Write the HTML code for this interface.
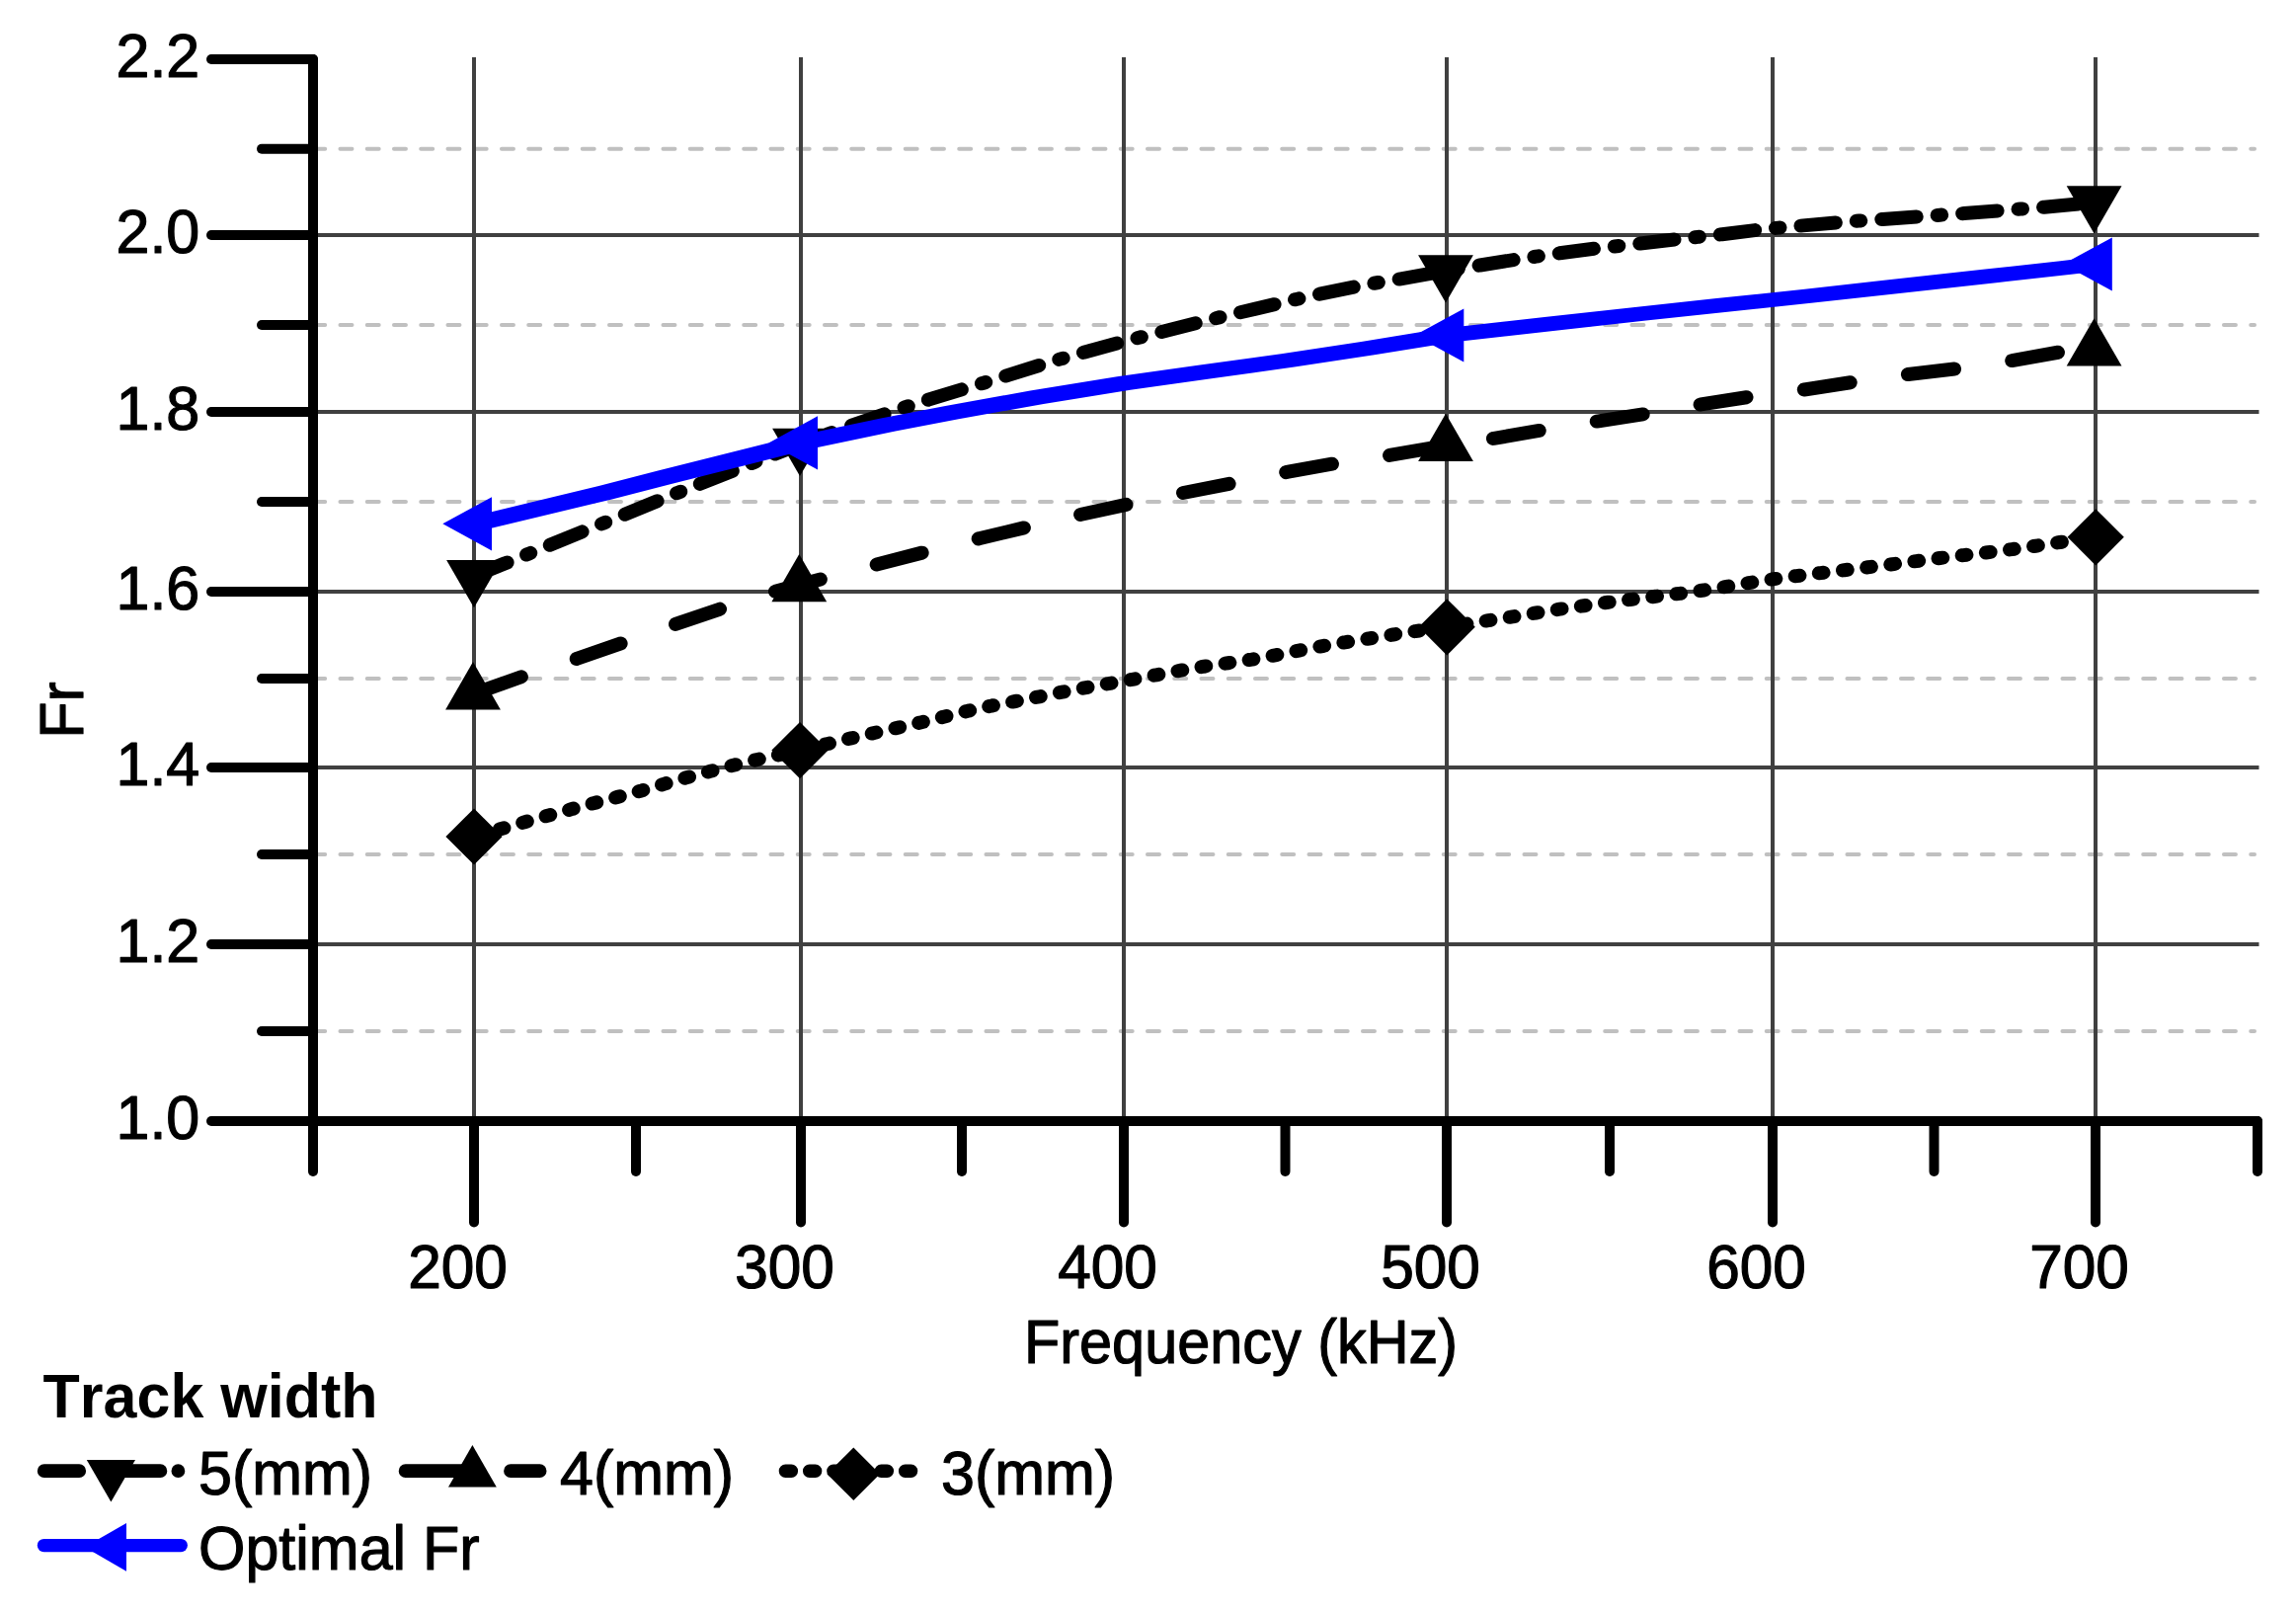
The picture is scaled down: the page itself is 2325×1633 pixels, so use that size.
<!DOCTYPE html>
<html lang="en"><head><meta charset="utf-8"><title>Fr vs Frequency</title>
<style>html,body{margin:0;padding:0;background:#fff}svg{display:block}</style></head>
<body>
<svg width="2325" height="1633" viewBox="0 0 2325 1633" font-family='"Liberation Sans", sans-serif' font-size="61">
<rect width="2325" height="1633" fill="#fff"/>
<g stroke="#c0c0c0" stroke-width="4" stroke-linecap="round" stroke-dasharray="12 15.25" fill="none">
<path d="M317.2 150.7H2283"/>
<path d="M317.2 329H2283"/>
<path d="M317.2 508H2283"/>
<path d="M317.2 687H2283"/>
<path d="M317.2 865H2283"/>
<path d="M317.2 1044H2283"/>
</g>
<g stroke="#404040" stroke-width="4" fill="none">
<path d="M317 238H2287.5"/>
<path d="M317 417H2287.5"/>
<path d="M317 599H2287.5"/>
<path d="M317 777H2287.5"/>
<path d="M317 956H2287.5"/>
<path d="M480 58V1135"/>
<path d="M811 58V1135"/>
<path d="M1138 58V1135"/>
<path d="M1465 58V1135"/>
<path d="M1795 58V1135"/>
<path d="M2122 58V1135"/>
</g>
<g fill="none" stroke="#000" stroke-linecap="round" stroke-linejoin="round" stroke-width="14">
<path stroke-dasharray="35.5 21 4.5 21.1" stroke-dashoffset="-0.75" d="M480.0 583.0L535.2 560.7L610.2 529.9L686.1 498.9L763.8 468.0L810.0 449.8L865.0 429.8L900.0 417.8L916.0 412.5L940.0 404.7L978.0 393.1L996.0 387.7L1018.0 380.7L1054.0 369.4L1074.0 363.4L1097.5 356.7L1136.0 346.3L1152.5 342.0L1176.0 336.1L1214.5 326.3L1234.5 321.4L1255.4 316.4L1293.8 307.4L1313.8 302.7L1336.4 297.7L1374.8 289.7L1395.7 286.0L1418.3 282.3L1464.0 274.3L1498.8 268.5L1534.7 262.8L1555.4 259.7L1579.4 256.3L1616.4 251.5L1637.1 249.2L1661.0 246.5L1698.1 242.2L1719.4 239.9L1743.8 237.2L1779.5 232.8L1801.0 230.6L1825.8 228.4L1861.7 225.2L1882.4 223.6L1906.3 222.0L1943.7 219.2L1964.4 217.7L1988.8 216.1L2025.4 213.2L2046.1 211.6L2070.0 209.7L2121.0 205.0"/>
<path stroke-dasharray="47.5 58.75" stroke-dashoffset="-3.35" d="M480.0 702.3L528.0 685.2L584.0 666.9L628.0 651.7L683.5 632.1L728.5 616.8L786.0 598.5L810.0 592.0L832.0 586.2L886.5 571.8L935.0 559.3L992.3 545.0L1037.8 534.2L1095.0 520.8L1144.0 510.1L1198.0 499.0L1247.0 489.3L1304.5 477.7L1353.0 469.0L1406.8 461.0L1465.0 451.0L1512.7 443.8L1562.1 435.4L1618.7 426.3L1668.2 418.7L1722.5 409.4L1770.6 401.9L1828.7 394.2L1876.8 386.8L1934.3 378.7L1982.9 373.1L2037.3 365.1L2085.9 356.4L2121.0 351.0"/>
<path stroke-dasharray="4.8 19.53" stroke-dashoffset="-2.54" d="M480.0 847.0L531.5 832.2L556.6 825.2L579.0 819.1L601.0 813.2L625.4 806.9L649.8 800.4L672.9 793.6L694.9 787.3L719.3 780.8L743.7 774.5L768.0 768.7L810.0 759.6L838.3 753.0L861.8 747.4L886.2 741.8L910.6 736.4L933.3 731.2L955.6 725.7L980.3 719.7L1004.4 714.5L1028.2 710.0L1052.6 705.3L1077.0 700.4L1101.4 695.8L1122.3 692.1L1146.7 687.8L1171.0 683.3L1195.7 678.7L1219.3 674.7L1243.6 671.2L1267.6 667.6L1292.6 663.1L1316.6 658.3L1340.5 653.8L1361.7 650.3L1386.3 646.5L1410.7 642.5L1433.1 639.1L1465.1 634.8L1507.1 628.2L1531.5 624.4L1555.5 620.5L1579.4 616.7L1604.0 613.2L1628.4 609.8L1650.5 607.0L1676.4 603.8L1701.0 600.9L1725.4 597.5L1749.5 593.7L1770.7 590.1L1794.6 586.4L1819.2 583.1L1843.6 580.1L1867.6 577.2L1891.5 574.3L1916.1 571.2L1940.5 568.1L1964.5 565.0L1988.4 562.1L2012.8 559.3L2037.4 556.1L2061.4 552.7L2085.8 549.0L2122.0 543.8"/>
</g>
<g fill="#000">
<path d="M452.1 566.9H507.9L480.0 615.2Z"/>
<path d="M782.1 433.7H837.9L810.0 482.0Z"/>
<path d="M1436.1 258.2H1491.9L1464.0 306.5Z"/>
<path d="M2092.7 188.3H2148.5L2120.6 236.6Z"/>
<path d="M451.1 718.4H506.9L479.0 670.1Z"/>
<path d="M781.4 609.3H837.2L809.3 561.0Z"/>
<path d="M1436.1 467.1H1491.9L1464.0 418.8Z"/>
<path d="M2092.7 370.5H2148.5L2120.6 322.2Z"/>
<path d="M451.4 847.0L480.0 818.4L508.6 847.0L480.0 875.6Z"/>
<path d="M781.4 759.6L810.0 731.0L838.6 759.6L810.0 788.2Z"/>
<path d="M1436.6 634.8L1465.2 606.2L1493.8 634.8L1465.2 663.4Z"/>
<path d="M2093.6 543.8L2122.2 515.2L2150.8 543.8L2122.2 572.4Z"/>
</g>
<g fill="#0000ff">
<path d="M474.8 523.7L606.3 492.0L666.3 476.6L804.8 441.7L893.3 423.2L957.3 410.9L1043.3 395.5L1131.3 381.3L1213.3 369.8L1297.3 358.2L1378.3 345.9L1459.1 332.8L1564.0 321.1L1651.1 311.4L1738.3 302.1L1825.3 292.9L1912.3 283.3L2010.3 272.5L2086.3 264.2L2115.6 260.7L2129.0 260.7L2129.0 274.1L2099.7 277.6L2023.7 285.9L1925.7 296.7L1838.7 306.2L1751.7 315.5L1664.5 324.8L1577.4 334.5L1472.5 346.2L1391.7 359.3L1310.7 371.6L1226.7 383.2L1144.7 394.7L1056.7 408.9L970.7 424.3L906.7 436.6L818.2 455.1L679.7 490.0L619.7 505.4L488.2 537.1L474.8 537.1Z"/>
<path d="M498.0 503.2V557.4L448.3 530.3Z"/>
<path d="M828.0 421.3V475.5L778.3 448.4Z"/>
<path d="M1482.3 312.4V366.6L1432.6 339.5Z"/>
<path d="M2138.8 240.4V294.6L2089.1 267.5Z"/>
</g>
<g stroke="#000" stroke-width="10" stroke-linecap="round" fill="none">
<path d="M317 60V1186"/>
<path d="M214 1135H2286"/>
<path d="M214 60H317"/>
<path d="M214 238H317"/>
<path d="M214 417H317"/>
<path d="M214 599H317"/>
<path d="M214 777H317"/>
<path d="M214 956H317"/>
<path d="M265 150.7H317"/>
<path d="M265 329H317"/>
<path d="M265 508H317"/>
<path d="M265 687H317"/>
<path d="M265 865H317"/>
<path d="M265 1044H317"/>
<path d="M480 1135V1237.5"/>
<path d="M811 1135V1237.5"/>
<path d="M1138 1135V1237.5"/>
<path d="M1465 1135V1237.5"/>
<path d="M1795 1135V1237.5"/>
<path d="M2122 1135V1237.5"/>
<path d="M644 1135V1186"/>
<path d="M974 1135V1186"/>
<path d="M1301.5 1135V1186"/>
<path d="M1630 1135V1186"/>
<path d="M1958.5 1135V1186"/>
<path d="M2286 1135V1186"/>
</g>
<g fill="#000" stroke="#000" stroke-width="1.2" stroke-linejoin="round" font-size="63.5" style="font-kerning:none">
<text transform="translate(202.3 78) scale(0.9606 1)" text-anchor="end">2.2</text>
<text transform="translate(202.3 256) scale(0.9606 1)" text-anchor="end">2.0</text>
<text transform="translate(202.3 435) scale(0.9606 1)" text-anchor="end">1.8</text>
<text transform="translate(202.3 617) scale(0.9606 1)" text-anchor="end">1.6</text>
<text transform="translate(202.3 795) scale(0.9606 1)" text-anchor="end">1.4</text>
<text transform="translate(202.3 974) scale(0.9606 1)" text-anchor="end">1.2</text>
<text transform="translate(202.3 1153) scale(0.9606 1)" text-anchor="end">1.0</text>
<text transform="translate(463.5 1304) scale(0.9510 1)" text-anchor="middle">200</text>
<text transform="translate(794.5 1304) scale(0.9510 1)" text-anchor="middle">300</text>
<text transform="translate(1121.5 1304) scale(0.9510 1)" text-anchor="middle">400</text>
<text transform="translate(1448.5 1304) scale(0.9510 1)" text-anchor="middle">500</text>
<text transform="translate(1778.5 1304) scale(0.9510 1)" text-anchor="middle">600</text>
<text transform="translate(2105.5 1304) scale(0.9510 1)" text-anchor="middle">700</text>
<text transform="translate(1037 1379.7) scale(0.9357 1)">Frequency (kHz)</text>
<text transform="translate(84 747.7) rotate(-90) scale(0.9606 1)">Fr</text>
<text transform="translate(43.6 1435) scale(0.9606 1)" font-weight="bold" stroke="none">Track width</text>
<text transform="translate(201 1513.3) scale(0.9606 1)">5(mm)</text>
<text transform="translate(567 1513.3) scale(0.9606 1)">4(mm)</text>
<text transform="translate(953 1513.3) scale(0.9606 1)">3(mm)</text>
<text transform="translate(201 1589) scale(0.9606 1)">Optimal Fr</text>
</g>
<g fill="none" stroke-linecap="round" stroke-width="13.8" stroke="#000">
<path d="M44.7 1489.2H80.2M116 1489.2H162.4M180.4 1489.2h0.01"/>
<path d="M410.6 1489.2H470M517 1489.2H546.6"/>
<path stroke-width="13.4" stroke-dasharray="6 18.24" d="M795.4 1489.2H926"/>
</g>
<path d="M87.8 1478.0H137.0L112.4 1520.6Z" fill="#000"/>
<path d="M454.0 1505.4H502.8L478.4 1463.1Z" fill="#000"/>
<path d="M837.5 1492.3L864.3 1465.5L891.1 1492.3L864.3 1519.1Z" fill="#000"/>
<path d="M44.5 1564.6H183.2" stroke="#0000ff" stroke-width="13.4" stroke-linecap="round" fill="none"/>
<path d="M128.0 1541.9V1590.7L85.7 1566.3Z" fill="#0000ff"/>
</svg>
</body></html>
